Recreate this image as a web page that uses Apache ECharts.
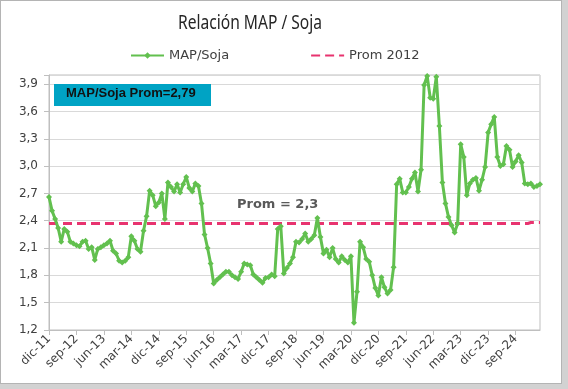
<!DOCTYPE html>
<html><head><meta charset="utf-8">
<script src="https://cdn.jsdelivr.net/npm/echarts@6/dist/echarts.min.js"></script>
<style>
html,body{margin:0;padding:0;background:#d2d2d2;}
#frame{position:absolute;left:0;top:0;width:560px;height:382px;background:#fff;border:1px solid #b4b4b4;}
#c{position:absolute;left:0;top:0;width:568px;height:389px;}
</style></head><body><div id="frame"></div><div id="c"></div>
<script>
const categories = [
 'dic-11',
 'ene-12','feb-12','mar-12','abr-12','may-12','jun-12','jul-12','ago-12','sep-12','oct-12','nov-12','dic-12',
 'ene-13','feb-13','mar-13','abr-13','may-13','jun-13','jul-13','ago-13','sep-13','oct-13','nov-13','dic-13',
 'ene-14','feb-14','mar-14','abr-14','may-14','jun-14','jul-14','ago-14','sep-14','oct-14','nov-14','dic-14',
 'ene-15','feb-15','mar-15','abr-15','may-15','jun-15','jul-15','ago-15','sep-15','oct-15','nov-15','dic-15',
 'ene-16','feb-16','mar-16','abr-16','may-16','jun-16','jul-16','ago-16','sep-16','oct-16','nov-16','dic-16',
 'ene-17','feb-17','mar-17','abr-17','may-17','jun-17','jul-17','ago-17','sep-17','oct-17','nov-17','dic-17',
 'ene-18','feb-18','mar-18','abr-18','may-18','jun-18','jul-18','ago-18','sep-18','oct-18','nov-18','dic-18',
 'ene-19','feb-19','mar-19','abr-19','may-19','jun-19','jul-19','ago-19','sep-19','oct-19','nov-19','dic-19',
 'ene-20','feb-20','mar-20','abr-20','may-20','jun-20','jul-20','ago-20','sep-20','oct-20','nov-20','dic-20',
 'ene-21','feb-21','mar-21','abr-21','may-21','jun-21','jul-21','ago-21','sep-21','oct-21','nov-21','dic-21',
 'ene-22','feb-22','mar-22','abr-22','may-22','jun-22','jul-22','ago-22','sep-22','oct-22','nov-22','dic-22',
 'ene-23','feb-23','mar-23','abr-23','may-23','jun-23','jul-23','ago-23','sep-23','oct-23','nov-23','dic-23',
 'ene-24','feb-24','mar-24','abr-24','may-24','jun-24','jul-24','ago-24','sep-24','oct-24','nov-24','dic-24',
 'ene-25','feb-25','mar-25','abr-25','may-25'
];

const mapSoja = [
 2.66,
 2.51,2.42,2.32,2.17,2.31,2.28,2.17,2.15,2.13,2.12,2.17,2.18,
 2.09,2.11,1.97,2.09,2.11,2.13,2.15,2.18,2.07,2.04,1.96,1.94,
 1.96,2.00,2.23,2.18,2.09,2.06,2.29,2.45,2.73,2.68,2.56,2.60,
 2.70,2.42,2.82,2.77,2.72,2.80,2.71,2.80,2.88,2.76,2.72,2.81,
 2.78,2.59,2.25,2.10,1.93,1.71,1.75,1.78,1.81,1.84,1.84,1.80,
 1.78,1.76,1.84,1.93,1.92,1.91,1.81,1.78,1.75,1.72,1.77,1.78,
 1.81,1.79,2.31,2.34,1.82,1.88,1.93,2.00,2.17,2.16,2.20,2.26,
 2.17,2.20,2.24,2.43,2.22,2.04,2.08,2.00,2.10,1.98,1.94,2.01,
 1.97,1.94,2.01,1.28,1.62,2.17,2.11,1.98,1.95,1.80,1.66,1.58,
 1.78,1.67,1.60,1.64,1.89,2.80,2.86,2.71,2.71,2.77,2.86,2.93,
 2.72,2.96,3.89,3.99,3.75,3.74,3.98,3.44,2.82,2.59,2.44,2.35,
 2.27,2.37,3.24,3.10,2.68,2.81,2.85,2.87,2.73,2.85,2.99,3.37,
 3.46,3.54,3.10,3.00,3.02,3.22,3.18,2.99,3.05,3.12,3.04,2.81,
 2.80,2.81,2.77,2.78,2.80
];

const prom2012 = [
 2.37,2.37,2.37,2.37,2.37,2.37,2.37,2.37,2.37,2.37,2.37,2.37,2.37,2.37,2.37,2.37,2.37,2.37,
 2.37,2.37,2.37,2.37,2.37,2.37,2.37,2.37,2.37,2.37,2.37,2.37,2.37,2.37,2.37,2.37,2.37,2.37,
 2.37,2.37,2.37,2.37,2.37,2.37,2.37,2.37,2.37,2.37,2.37,2.37,2.37,2.37,2.37,2.37,2.37,2.37,
 2.37,2.37,2.37,2.37,2.37,2.37,2.37,2.37,2.37,2.37,2.37,2.37,2.37,2.37,2.37,2.37,2.37,2.37,
 2.37,2.37,2.37,2.37,2.37,2.37,2.37,2.37,2.37,2.37,2.37,2.37,2.37,2.37,2.37,2.37,2.37,2.37,
 2.37,2.37,2.37,2.37,2.37,2.37,2.37,2.37,2.37,2.37,2.37,2.37,2.37,2.37,2.37,2.37,2.37,2.37,
 2.37,2.37,2.37,2.37,2.37,2.37,2.37,2.37,2.37,2.37,2.37,2.37,2.37,2.37,2.37,2.37,2.37,2.37,
 2.37,2.37,2.37,2.37,2.37,2.37,2.37,2.37,2.37,2.37,2.37,2.37,2.37,2.37,2.37,2.37,2.37,2.37,
 2.37,2.37,2.37,2.37,2.37,2.37,2.37,2.37,2.37,2.37,2.37,2.37,2.37,2.37,2.38,2.38,2.38,2.38
];

const yTicks = {min: 1.2, max: 4.0, interval: 0.3};
const titleText = 'Relación MAP / Soja';
const boxText = 'MAP/Soja Prom=2,79';
const promText = 'Prom = 2,3';

const green = '#62C04F';
const pink = '#E8336F';
const axisFont = 'DejaVu Sans';

const chart = echarts.init(document.getElementById('c'), null, {renderer: 'canvas'});
chart.setOption({
  backgroundColor: 'transparent',
  animation: false,
  legend: {
    left: 125, top: 44, itemWidth: 33, itemHeight: 8, itemGap: 81,
    textStyle: {fontFamily: axisFont, fontSize: 13, color: '#404040'},
    data: [
      {name: 'MAP/Soja'},
      {name: 'Prom 2012', itemStyle: {opacity: 0, color: 'rgba(0,0,0,0)', borderWidth: 0}}
    ]
  },
  grid: {left: 49, right: 28, top: 75, bottom: 59, show: true, borderColor: '#bfbfbf', borderWidth: 1, containLabel: false},
  xAxis: {
    type: 'category', data: categories, boundaryGap: false,
    axisLine: {lineStyle: {color: '#bfbfbf'}},
    axisTick: {show: true, interval: 8, length: 5, lineStyle: {color: '#bfbfbf'}},
    axisLabel: {interval: 8, rotate: 45, margin: 7, fontFamily: axisFont, fontSize: 12, color: '#404040'},
    splitLine: {show: false}
  },
  yAxis: {
    type: 'value', min: yTicks.min, max: yTicks.max, interval: yTicks.interval,
    axisLine: {show: true, lineStyle: {color: '#bfbfbf'}},
    axisTick: {show: true, length: 5, lineStyle: {color: '#bfbfbf'}},
    axisLabel: {margin: 11, fontFamily: axisFont, fontSize: 12, color: '#404040',
      formatter: v => v > 3.95 ? '' : v.toFixed(1).replace('.', ',')},
    splitLine: {lineStyle: {color: '#d9d9d9'}}
  },
  series: [
    {name: 'Prom 2012', type: 'line', data: prom2012, symbol: 'none', z: 2,
     lineStyle: {color: pink, width: 3, type: [9, 5]}, itemStyle: {color: pink}},
    {name: 'MAP/Soja', type: 'line', data: mapSoja, symbol: 'diamond', symbolSize: 6, showAllSymbol: true, z: 3,
     lineStyle: {color: green, width: 3}, itemStyle: {color: green}}
  ],
  graphic: [
    {type: 'text', x: 178, y: 14, scaleX: 0.82, z: 11,
     style: {text: titleText, font: '19px "Noto Sans"', fill: '#262626'}},
    {type: 'rect', left: 54, top: 84, shape: {width: 157, height: 22}, style: {fill: '#00A3C4'}, z: 10},
    {type: 'text', left: 66, top: 87, z: 11,
     style: {text: boxText, font: 'bold 13px "Liberation Sans", Arial, sans-serif', fill: '#111'}},
    {type: 'text', left: 237, top: 198, z: 11,
     style: {text: promText, font: 'bold 13px "DejaVu Sans"', fill: '#595959'}}
  ]
});
</script>
</body></html>
